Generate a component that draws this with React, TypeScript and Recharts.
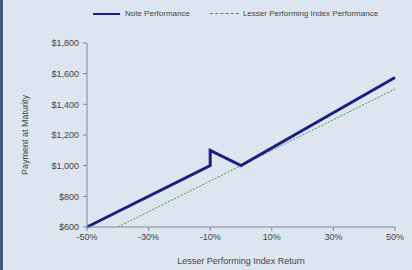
import { LineChart, Line, XAxis, YAxis } from "recharts";

// note payoff: x = index return (%), y = payment ($)
const noteReturns = [-50, -10, -10, 0, 50];
const notePayments = [600, 1000, 1100, 1000, 1575];

const indexReturns = [-40, 50];
const indexPayments = [600, 1500];

const xTicks = [-50, -30, -10, 10, 30, 50];
const yTicks = [600, 800, 1000, 1200, 1400, 1600, 1800];

const noteData = noteReturns.map((r, i) => ({ r, v: notePayments[i] }));
const indexData = indexReturns.map((r, i) => ({ r, v: indexPayments[i] }));

const NAVY = "#1c1f80";
const GREEN = "#3d9a3d";
const AXIS = "#808890";
const TEXT = "#444";
const FONT = "'Liberation Sans', Arial, sans-serif";

const fmtMoney = (v: number) => "$" + v.toLocaleString("en-US");

export default function App() {
  return (
    <div
      style={{
        position: "fixed",
        left: 0,
        top: 0,
        width: 412,
        height: 270,
        background: "#dde6f0",
        fontFamily: FONT,
      }}
    >
      <div style={{ position: "absolute", left: 0, top: 0, width: 3, height: 270, background: "#3d5a80" }} />
      <div
        style={{
          position: "absolute",
          top: 9,
          left: 93,
          display: "flex",
          alignItems: "center",
          fontSize: 8,
          color: TEXT,
          whiteSpace: "nowrap",
        }}
      >
        <span style={{ width: 27, height: 0, borderTop: `2.5px solid ${NAVY}`, display: "inline-block" }} />
        <span style={{ marginLeft: 5 }}>Note Performance</span>
        <span
          style={{
            marginLeft: 20,
            width: 29,
            height: 0,
            borderTop: `1px dashed ${GREEN}`,
            display: "inline-block",
          }}
        />
        <span style={{ marginLeft: 4 }}>Lesser Performing Index Performance</span>
      </div>
      <LineChart
        width={412}
        height={270}
        margin={{ top: 43, right: 17, bottom: 0, left: 0 }}
        style={{ position: "absolute", left: 0, top: 0 }}
      >
        <XAxis
          type="number"
          dataKey="r"
          domain={[-50, 50]}
          ticks={xTicks}
          tickFormatter={(v) => `${v}%`}
          tick={{ fontSize: 9, fill: TEXT, fontFamily: FONT }}
          stroke={AXIS}
          tickSize={4}
          tickMargin={3}
          height={43}
          allowDuplicatedCategory={false}
          label={{
            value: "Lesser Performing Index Return",
            position: "insideBottom",
            offset: 6,
            style: { fontSize: 9, fill: TEXT, fontFamily: FONT },
          }}
        />
        <YAxis
          type="number"
          domain={[600, 1800]}
          ticks={yTicks}
          tickFormatter={fmtMoney}
          tick={{ fontSize: 9, fill: TEXT, fontFamily: FONT }}
          stroke={AXIS}
          tickSize={4}
          tickMargin={4}
          width={87}
          label={{
            value: "Payment at Maturity",
            angle: -90,
            position: "insideLeft",
            offset: 25,
            style: { fontSize: 9, fill: TEXT, fontFamily: FONT, textAnchor: "middle" },
          }}
        />
        <Line
          data={indexData}
          dataKey="v"
          type="linear"
          stroke={GREEN}
          strokeWidth={1}
          strokeDasharray="2 1.5"
          dot={false}
          isAnimationActive={false}
        />
        <Line
          data={noteData}
          dataKey="v"
          type="linear"
          stroke={NAVY}
          strokeWidth={3}
          dot={false}
          isAnimationActive={false}
        />
      </LineChart>
    </div>
  );
}
